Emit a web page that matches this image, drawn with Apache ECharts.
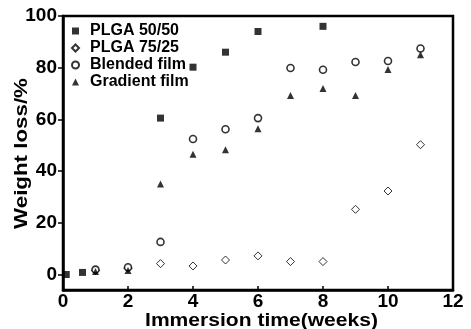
<!DOCTYPE html>
<html>
<head>
<meta charset="utf-8">
<script src="https://cdn.jsdelivr.net/npm/echarts@6/dist/echarts.min.js"></script>
<style>html,body{margin:0;padding:0;background:#fff}#c{width:471px;height:329px}</style>
</head>
<body>
<div id="c"></div>
<script>
var seriesNames = ['PLGA 50/50', 'PLGA 75/25', 'Blended film', 'Gradient film'];
var plga5050 = [[0.1, 0], [0.6, 0.8], [3, 60.5], [4, 80.2], [5, 86], [6, 94], [8, 96]];
var plga7525 = [[1, 1.5], [2, 2.4], [3, 4.2], [4, 3.3], [5, 5.6], [6, 7.2], [7, 5], [8, 5], [9, 25.2], [10, 32.3], [11, 50.2]];
var blended = [[1, 1.9], [2, 2.8], [3, 12.6], [4, 52.4], [5, 56.2], [6, 60.5], [7, 79.9], [8, 79.2], [9, 82.2], [10, 82.6], [11, 87.4]];
var gradient = [[1, 1.2], [2, 1.5], [3, 35], [4, 46.5], [5, 48.3], [6, 56.4], [7, 69.2], [8, 72], [9, 69.2], [10, 79.3], [11, 85]];
var yTickValues = [0, 20, 40, 60, 80, 100];
var xTitle = 'Immersion time(weeks)';
var yTitle = 'Weight loss/%';

var FONT = '"Liberation Sans", Arial, sans-serif';
var chart = echarts.init(document.getElementById('c'), null, {renderer: 'canvas'});
chart.setOption({
  animation: false,
  backgroundColor: '#fff',
  grid: {left: 63, right: 18, top: 16, bottom: 39, show: true, borderColor: '#000', borderWidth: 2.5, backgroundColor: 'transparent'},
  legend: {
    orient: 'vertical', left: 66, top: 18, itemGap: 1, itemWidth: 7, itemHeight: 7,
    textStyle: {fontFamily: FONT, fontWeight: 'bold', fontSize: 16, color: '#000', padding: [0, 0, 0, 6]},
    data: seriesNames
  },
  xAxis: {
    type: 'value', min: 0, max: 12, interval: 2,
    axisLine: {onZero: false, lineStyle: {color: '#000', width: 2.5}},
    axisTick: {inside: true, length: 4, lineStyle: {color: '#000', width: 1.5}},
    axisLabel: {margin: 2, fontFamily: FONT, fontWeight: 'bold', fontSize: 19, color: '#000'},
    splitLine: {show: false}
  },
  yAxis: {
    type: 'value', min: -6, max: 100,
    axisLine: {onZero: false, lineStyle: {color: '#000', width: 2.5}},
    axisTick: {inside: false, length: 5, customValues: yTickValues, lineStyle: {color: '#000', width: 1.5}},
    axisLabel: {margin: 6, customValues: yTickValues, fontFamily: FONT, fontWeight: 'bold', fontSize: 19, color: '#000'},
    splitLine: {show: false}
  },
  graphic: [{
    type: 'text', x: 22, y: 153.5, rotation: Math.PI / 2, scaleX: 1.24,
    style: {text: yTitle, font: 'bold 18px ' + FONT, fill: '#000', textAlign: 'center', textVerticalAlign: 'middle'}
  }, {
    type: 'text', x: 261.5, y: 321.5, scaleX: 1.17,
    style: {text: xTitle, font: 'bold 18px ' + FONT, fill: '#000', textAlign: 'center', textVerticalAlign: 'middle'}
  }],
  series: [
    {name: seriesNames[0], type: 'scatter', data: plga5050, symbol: 'rect', symbolSize: 7,
     itemStyle: {color: '#000'}},
    {name: seriesNames[1], type: 'scatter', data: plga7525, symbol: 'diamond', symbolSize: 8,
     itemStyle: {color: '#fff', borderColor: '#000', borderWidth: 1}},
    {name: seriesNames[2], type: 'scatter', data: blended, symbol: 'circle', symbolSize: 7,
     itemStyle: {color: '#fff', borderColor: '#000', borderWidth: 1.6}},
    {name: seriesNames[3], type: 'scatter', data: gradient, symbol: 'triangle', symbolSize: 7,
     itemStyle: {color: '#000'}}
  ]
});
</script>
</body>
</html>
